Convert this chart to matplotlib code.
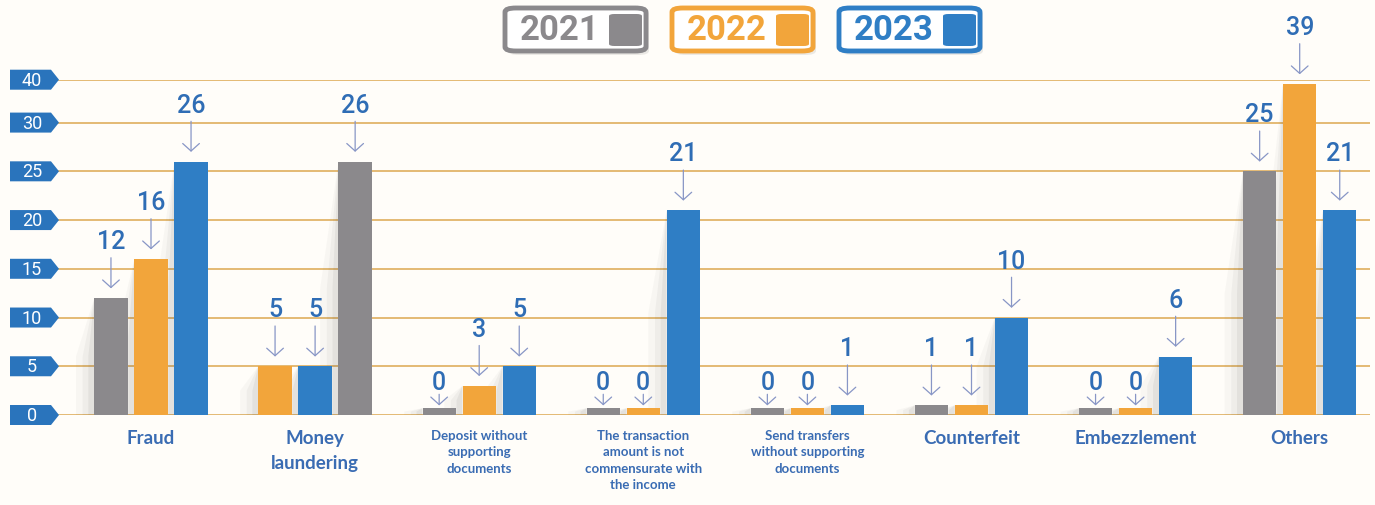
import numpy as np
import matplotlib
matplotlib.use("Agg")
import matplotlib.pyplot as plt  # noqa: E402
from matplotlib.patches import Polygon, FancyBboxPatch  # noqa: E402

categories = [
    "Fraud",
    "Money\nlaundering",
    "Deposit without\nsupporting\ndocuments",
    "The transaction\namount is not\ncommensurate with\nthe income",
    "Send transfers\nwithout supporting\ndocuments",
    "Counterfeit",
    "Embezzlement",
    "Others",
]
years = ["2021", "2022", "2023"]
cases_2021 = [12, 26, 0, 0, 0, 1, 0, 25]
cases_2022 = [16, 5, 3, 0, 0, 1, 0, 39]
cases_2023 = [26, 5, 5, 21, 1, 10, 6, 21]
tick_values = [0, 5, 10, 15, 20, 25, 30, 40]

# series -> colour; slot order inside each group (money laundering is reordered)
COLORS = ["#8b898c", "#f2a53b", "#2f7ec5"]
SLOTS = {1: (2, 0, 1)}
SMALL_LABELS = (2, 3, 4)
TEXT_BLUE = "#2f6db5"
LABEL_BLUE = "#3a6cb3"
GRID = "#e2b46a"
BG = "#fffdf9"
W, H = 1375, 506
STUB = 0.7  # zero-count bars still get a thin visible stub


def fx(px):
    return px / W


def fy(py):
    return 1 - py / H


def squash(y):
    y = np.asarray(y, dtype=float)
    return np.where(y <= 30, y, 30 + (y - 30) * 0.44)


def unsquash(y):
    y = np.asarray(y, dtype=float)
    return np.where(y <= 30, y, 30 + (y - 30) / 0.44)


fig = plt.figure(figsize=(W / 100, H / 100), dpi=100, facecolor=BG)
ax = fig.add_axes([fx(58), fy(416), fx(1370) - fx(58), fy(80.7) - fy(416)])
ax.set_facecolor("none")
ax.set_yscale("function", functions=(squash, unsquash))
ax.set_ylim(0, 40)
px_unit = 164.1
ax.set_xlim((58 - 151) / px_unit, (1370 - 151) / px_unit)
for s in ax.spines.values():
    s.set_visible(False)
ax.set_xticks([])
ax.set_yticks([])

for v in tick_values:
    ax.axhline(v, color=GRID, lw=1.3, zorder=1)

series = [cases_2021, cases_2022, cases_2023]
x = np.arange(len(categories))
pitch, width = 0.244, 0.203

for i in range(len(categories)):
    slots = SLOTS.get(i, (0, 1, 2))
    for s, vals in enumerate(series):
        v = vals[i]
        xc = x[i] + (slots[s] - 1) * pitch
        h = max(v, STUB)
        xl = xc - width / 2
        # soft fold shadow on the left of each bar
        hs = float(squash(h))
        for d, a in ((0.55, 0.035), (0.35, 0.05), (0.18, 0.07)):
            top_mid = float(unsquash(hs * 0.5))
            ax.add_patch(Polygon([(xl, h), (xl - d * width, top_mid),
                                  (xl - d * width, 0), (xl, 0)],
                                 closed=True, fc="#4a4a4a", ec="none",
                                 alpha=a, zorder=1.5))
        ax.bar(xc, h, width=width, color=COLORS[s], zorder=3)

        near = v == 0
        ax.annotate(str(v), xy=(xc, h), xytext=(0, 19 if near else 41),
                    textcoords="offset points", ha="center", va="center",
                    fontsize=18, fontweight="medium",
                    family=["Roboto", "DejaVu Sans"],
                    color=TEXT_BLUE, zorder=5)
        ax.annotate("", xy=(xc, h), xytext=(0, 10 if near else 29),
                    textcoords="offset points",
                    arrowprops=dict(arrowstyle="->,head_length=0.45,head_width=0.5",
                                    color="#8896c6", lw=0.9, mutation_scale=12,
                                    shrinkA=0, shrinkB=2 if near else 7))

    small = i in SMALL_LABELS
    ax.annotate(categories[i], xy=(x[i], 0), xytext=(0, -10),
                textcoords="offset points", ha="center", va="top",
                fontsize=9.5 if small else 13.5, fontweight="bold",
                family=["Lato", "DejaVu Sans"], color=LABEL_BLUE,
                linespacing=1.45 if small else 1.6)

# y tick tags: blue pentagons with white numbers
for v in tick_values:
    ypx = ax.transData.transform((0, v))[1]
    yc = ypx / (H * fig.dpi / 100)
    hh = 10 / H
    tag = Polygon([(fx(10), yc - hh), (fx(51), yc - hh), (fx(59), yc),
                   (fx(51), yc + hh), (fx(10), yc + hh)],
                  closed=True, fc="#2a74bc", ec="none",
                  transform=fig.transFigure)
    fig.add_artist(tag)
    fig.text(fx(32), yc, str(v), ha="center", va="center", color="white",
             fontsize=13, family=["Roboto", "DejaVu Sans"])

# year legend boxes across the top
for k, (yr, col) in enumerate(zip(years, COLORS)):
    left = 505 + k * 167
    shadow = FancyBboxPatch((fx(left + 3), fy(56)), fx(141), fy(11) - fy(56),
                            boxstyle="round,pad=0,rounding_size=0.008",
                            fc="#000000", ec="none", alpha=0.08,
                            transform=fig.transFigure)
    fig.add_artist(shadow)
    box = FancyBboxPatch((fx(left), fy(52)), fx(141), fy(9) - fy(52),
                         boxstyle="round,pad=0,rounding_size=0.008",
                         fc="white", ec=col, lw=3.5,
                         transform=fig.transFigure)
    fig.add_artist(box)
    sq = FancyBboxPatch((fx(left + 104), fy(47)), fx(33), fy(15) - fy(47),
                        boxstyle="round,pad=0,rounding_size=0.004",
                        fc=col, ec="none", transform=fig.transFigure)
    fig.add_artist(sq)
    fig.text(fx(left + 55), fy(31), yr, ha="center", va="center",
             color=col, fontsize=25, fontweight="bold",
             family=["Roboto", "DejaVu Sans"])

fig.savefig("out.png", dpi=100, facecolor=BG)
